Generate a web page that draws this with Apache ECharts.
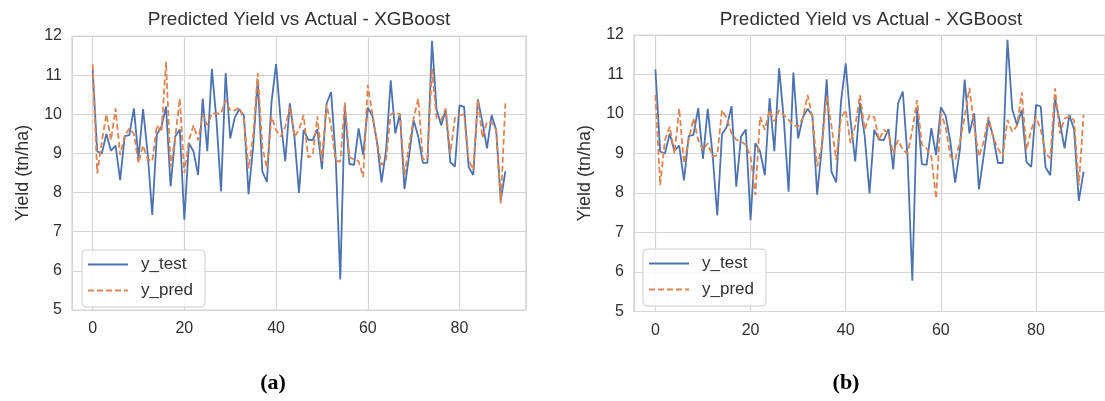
<!DOCTYPE html>
<html><head><meta charset="utf-8">
<script src="https://cdn.jsdelivr.net/npm/echarts@6/dist/echarts.min.js"></script>
<style>html,body{margin:0;padding:0;background:#fff}#c{width:1105px;height:401px}</style>
</head><body><div id="c"></div>
<script>
// y_test (shared by both panels)
const yTest = [11.13, 9.05, 9.0, 9.5, 9.07, 9.2, 8.32, 9.44, 9.47, 10.15,
  8.87, 10.13, 9.0, 7.43, 9.48, 9.68, 10.2, 8.16, 9.43, 9.61,
  7.31, 9.26, 9.05, 8.45, 10.4, 9.06, 11.16, 9.85, 8.03, 11.05,
  9.38, 9.92, 10.13, 9.96, 7.96, 9.17, 10.88, 8.54, 8.27, 10.3,
  11.28, 9.85, 8.8, 10.28, 9.43, 7.99, 9.6, 9.35, 9.34, 9.62,
  8.6, 10.27, 10.57, 8.9, 5.78, 10.17, 8.73, 8.71, 9.64, 8.96,
  10.17, 9.96, 9.3, 8.26, 9.1, 10.87, 9.51, 10.02, 8.09, 8.94,
  9.85, 9.43, 8.76, 8.76, 11.88, 10.12, 9.72, 10.1, 8.78, 8.66,
  10.23, 10.19, 8.65, 8.45, 10.38, 9.8, 9.13, 9.98, 9.6, 7.8, 8.54];
// y_pred, panel (a)
const yPredA = [11.28, 8.49, 9.3, 10.0, 9.34, 10.15, 8.96, 9.45, 9.64, 9.5,
  8.75, 9.2, 8.85, 8.8, 9.72, 9.55, 11.34, 8.66, 9.4, 10.4,
  8.5, 9.34, 9.72, 9.34, 9.98, 9.72, 10.02, 10.02, 10.02, 10.36,
  10.1, 10.1, 10.17, 9.85, 8.62, 9.43, 11.05, 9.17, 8.62, 9.94,
  9.6, 9.43, 9.68, 10.19, 9.43, 9.6, 9.98, 8.9, 8.95, 9.95,
  8.8, 10.25, 9.7, 8.8, 8.8, 10.3, 8.9, 8.85, 8.8, 8.4,
  10.75, 10.0, 9.3, 8.7, 8.85, 10.0, 10.05, 10.0, 8.45, 9.2,
  9.9, 10.4, 8.85, 8.85, 11.17, 9.9, 9.85, 10.15, 9.0, 9.9,
  9.98, 10.0, 8.83, 8.58, 10.36, 9.4, 9.8, 9.8, 9.6, 7.72, 10.28];
// y_pred, panel (b)
const yPredB = [10.48, 8.2, 9.34, 9.68, 9.0, 10.14, 8.75, 9.34, 9.89, 9.34,
  9.09, 9.26, 8.92, 8.96, 10.1, 9.89, 9.51, 9.35, 9.3, 9.22,
  8.92, 7.95, 9.93, 9.6, 10.1, 9.81, 10.1, 9.97, 9.85, 9.72,
  9.68, 9.9, 10.48, 9.9, 8.67, 9.2, 10.44, 9.7, 8.84, 9.9,
  10.1, 9.26, 9.7, 10.48, 9.6, 9.97, 9.92, 9.34, 9.6, 9.5,
  9.0, 9.34, 9.09, 9.0, 9.6, 10.35, 9.22, 9.13, 8.92, 7.86,
  10.02, 9.68, 8.92, 8.84, 9.3, 9.93, 10.66, 9.7, 8.92, 9.3,
  9.93, 9.4, 9.13, 8.92, 9.85, 9.55, 9.7, 10.55, 9.09, 9.6,
  9.93, 9.6, 9.0, 8.88, 10.65, 9.51, 9.89, 9.93, 9.85, 8.2, 9.98];

const titleText = 'Predicted Yield vs Actual - XGBoost';
const yLabel = 'Yield (tn/ha)';
const seriesNames = ['y_test', 'y_pred'];
const captions = ['a', 'b'];

const BLUE = '#4C72B0', ORANGE = '#DD8452', TXT = '#303030', GRID = '#d5d5d5';
const FONT = '"Liberation Sans", Arial, sans-serif';

const pairs = arr => arr.map((v, i) => [i, v]);

const grids = [
  {left: 72, top: 36, width: 454, height: 274},
  {left: 634, top: 35, width: 475, height: 276.5}
];

function xAxis(g) {
  return {
    type: 'value', gridIndex: g, min: -4.5, max: 94.5, splitNumber: 5,
    axisLine: {show: false}, axisTick: {show: false},
    axisLabel: {showMinLabel: false, showMaxLabel: false, color: TXT, fontSize: 16, fontFamily: FONT, margin: 11},
    splitLine: {show: true, lineStyle: {color: GRID, width: 1.2}}
  };
}
function yAxis(g) {
  return {
    type: 'value', gridIndex: g, min: 5, max: 12, interval: 1,
    name: yLabel, nameLocation: 'middle', nameGap: 40,
    nameTextStyle: {color: TXT, fontSize: 18, fontFamily: FONT},
    axisLine: {show: false}, axisTick: {show: false},
    axisLabel: {color: TXT, fontSize: 16, fontFamily: FONT, margin: 10},
    splitLine: {show: true, lineStyle: {color: GRID, width: 1.2}}
  };
}
function line(name, data, g, color, dashed) {
  return {
    name, type: 'line', xAxisIndex: g, yAxisIndex: g, data: pairs(data),
    symbol: 'none', animation: false, z: dashed ? 3 : 2,
    lineStyle: {color, width: 1.8, type: dashed ? [6, 3] : 'solid'},
    itemStyle: {color}
  };
}
function legend(left, top) {
  return {
    data: seriesNames, orient: 'vertical', left, top,
    itemWidth: 40, itemHeight: 14, itemGap: 9,
    padding: [6, 12, 8, 5],
    itemStyle: {opacity: 0},
    backgroundColor: 'rgba(255,255,255,0.85)', borderColor: '#cccccc', borderWidth: 1, borderRadius: 4,
    textStyle: {color: TXT, fontSize: 17, fontFamily: FONT, padding: [0, 0, 0, 8]},
    selectedMode: false
  };
}
const capRich = {
  n: {fontSize: 22, fontFamily: '"Liberation Serif", serif', color: '#000'},
  b: {fontSize: 22, fontWeight: 'bold', fontFamily: '"Liberation Serif", serif', color: '#000'}
};

const option = {
  backgroundColor: '#fff',
  animation: false,
  title: [
    {text: titleText, left: 299, top: 10, textAlign: 'center', padding: 0,
     textStyle: {color: TXT, fontSize: 19, fontWeight: 'normal', fontFamily: FONT}},
    {text: titleText, left: 871, top: 10, textAlign: 'center', padding: 0,
     textStyle: {color: TXT, fontSize: 19, fontWeight: 'normal', fontFamily: FONT}},
    {text: '{n|(}{b|' + captions[0] + '}{n|)}', left: 273, top: 372, textAlign: 'center', padding: 0,
     textStyle: {rich: capRich}},
    {text: '{n|(}{b|' + captions[1] + '}{n|)}', left: 846, top: 372, textAlign: 'center', padding: 0,
     textStyle: {rich: capRich}}
  ],
  grid: grids.map(g => Object.assign({show: true, borderColor: GRID, borderWidth: 1.2, backgroundColor: '#fff'}, g)),
  xAxis: [xAxis(0), xAxis(1)],
  yAxis: [yAxis(0), yAxis(1)],
  legend: [legend(82, 250), legend(643, 249)],
  series: [
    line(seriesNames[0], yTest, 0, BLUE, false),
    line(seriesNames[1], yPredA, 0, ORANGE, true),
    line(seriesNames[0], yTest, 1, BLUE, false),
    line(seriesNames[1], yPredB, 1, ORANGE, true)
  ]
};
const chart = echarts.init(document.getElementById('c'), null, {renderer: 'canvas'});
chart.setOption(option);
</script></body></html>
